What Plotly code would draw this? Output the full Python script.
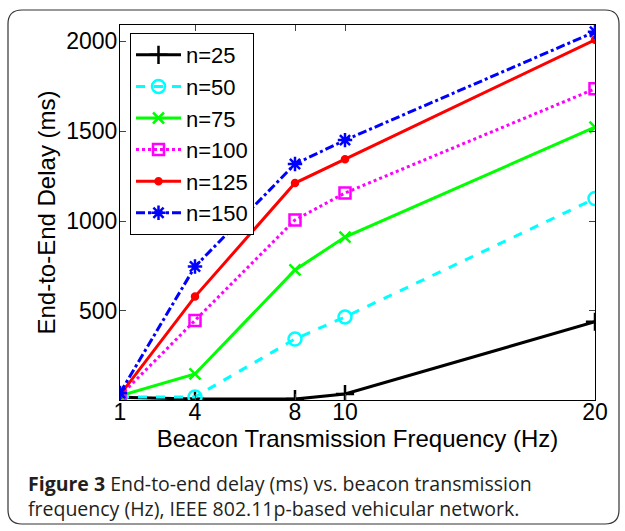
import plotly.graph_objects as go

freq = [1, 4, 8, 10, 20]
n25 = [20, 10, 10, 38, 440]
n50 = [22, 22, 344, 467, 1125]
n75 = [28, 150, 728, 911, 1522]
n100 = [28, 447, 1006, 1156, 1735]
n125 = [33, 580, 1211, 1344, 2008]
n150 = [44, 747, 1317, 1450, 2052]
x_ticks = [1, 4, 8, 10, 20]
y_ticks = [500, 1000, 1500, 2000]

series = [
    ("n=25", n25, "black", "solid", "cross-thin-open", 13),
    ("n=50", n50, "#00FFFF", "dash", "circle-open", 13),
    ("n=75", n75, "#00FF00", "solid", "x-thin-open", 11),
    ("n=100", n100, "#FF00FF", "dot", "square-open", 11),
    ("n=125", n125, "#FF0000", "solid", "circle", 6),
    ("n=150", n150, "#0000FF", "dashdot", "asterisk-open", 12),
]

fig = go.Figure()
for name, ys, col, dash, sym, sz in series:
    fig.add_trace(go.Scatter(
        x=freq, y=ys, name=name, mode="lines+markers",
        line=dict(color=col, width=3, dash=dash),
        marker=dict(symbol=sym, size=sz, color=col, line=dict(color=col, width=2.5)),
    ))

tickfont = dict(family="Liberation Sans, Arial, sans-serif", size=23, color="black")
legfont = dict(family="Liberation Sans, Arial, sans-serif", size=22, color="black")
labfont = dict(family="Liberation Sans, Arial, sans-serif", size=24, color="black")
L, R, T, B = 120, 595, 25, 400
W, H = 625, 531
pw, ph = R - L, B - T

def px(x):
    return (x - L) / pw

def py(y):
    return (B - y) / ph

fig.update_layout(
    width=W, height=H,
    margin=dict(l=L, r=W - R, t=T, b=H - B),
    paper_bgcolor="white", plot_bgcolor="white",
    showlegend=True,
    legend=dict(x=px(130), y=py(33), xanchor="left", yanchor="top",
                bgcolor="white", bordercolor="black", borderwidth=1,
                font=legfont, itemwidth=45, tracegroupgap=0),
    xaxis=dict(range=[1, 20], tickvals=x_ticks, ticks="inside", ticklen=6,
               showline=True, mirror="allticks", linecolor="black", linewidth=1,
               showgrid=False, zeroline=False, tickfont=tickfont, ticklabelstandoff=-9,
               title=dict(text="Beacon Transmission Frequency (Hz)", font=labfont, standoff=4)),
    yaxis=dict(range=[5, 2090], tickvals=y_ticks, ticks="inside", ticklen=6,
               showline=True, mirror="allticks", linecolor="black", linewidth=1,
               showgrid=False, zeroline=False, tickfont=tickfont, ticklabelstandoff=-3,
               title=dict(text="End-to-End Delay (ms)", font=labfont, standoff=3)),
)

# rounded outer frame
x0, x1, y0, y1, r = px(8), px(619), py(10), py(524), 14
rx, ry = r / pw, r / ph
path = (f"M {x0+rx} {y0} L {x1-rx} {y0} Q {x1} {y0} {x1} {y0-ry} "
        f"L {x1} {y1+ry} Q {x1} {y1} {x1-rx} {y1} L {x0+rx} {y1} "
        f"Q {x0} {y1} {x0} {y1+ry} L {x0} {y0-ry} Q {x0} {y0} {x0+rx} {y0} Z")
fig.add_shape(type="path", path=path, xref="paper", yref="paper",
              line=dict(color="#333333", width=1.2), layer="below")

capfont = dict(family="Open Sans, Noto Sans, sans-serif", size=19.5, color="#231f20")
fig.add_annotation(x=px(26), y=py(496), xref="paper", yref="paper", xanchor="left", yanchor="middle",
                   showarrow=False, font=capfont, align="left",
                   text="<b>Figure 3</b> End-to-end delay (ms) vs. beacon transmission"
                        "<br>frequency (Hz), IEEE 802.11p-based vehicular network.")

fig.write_html("out.html")
